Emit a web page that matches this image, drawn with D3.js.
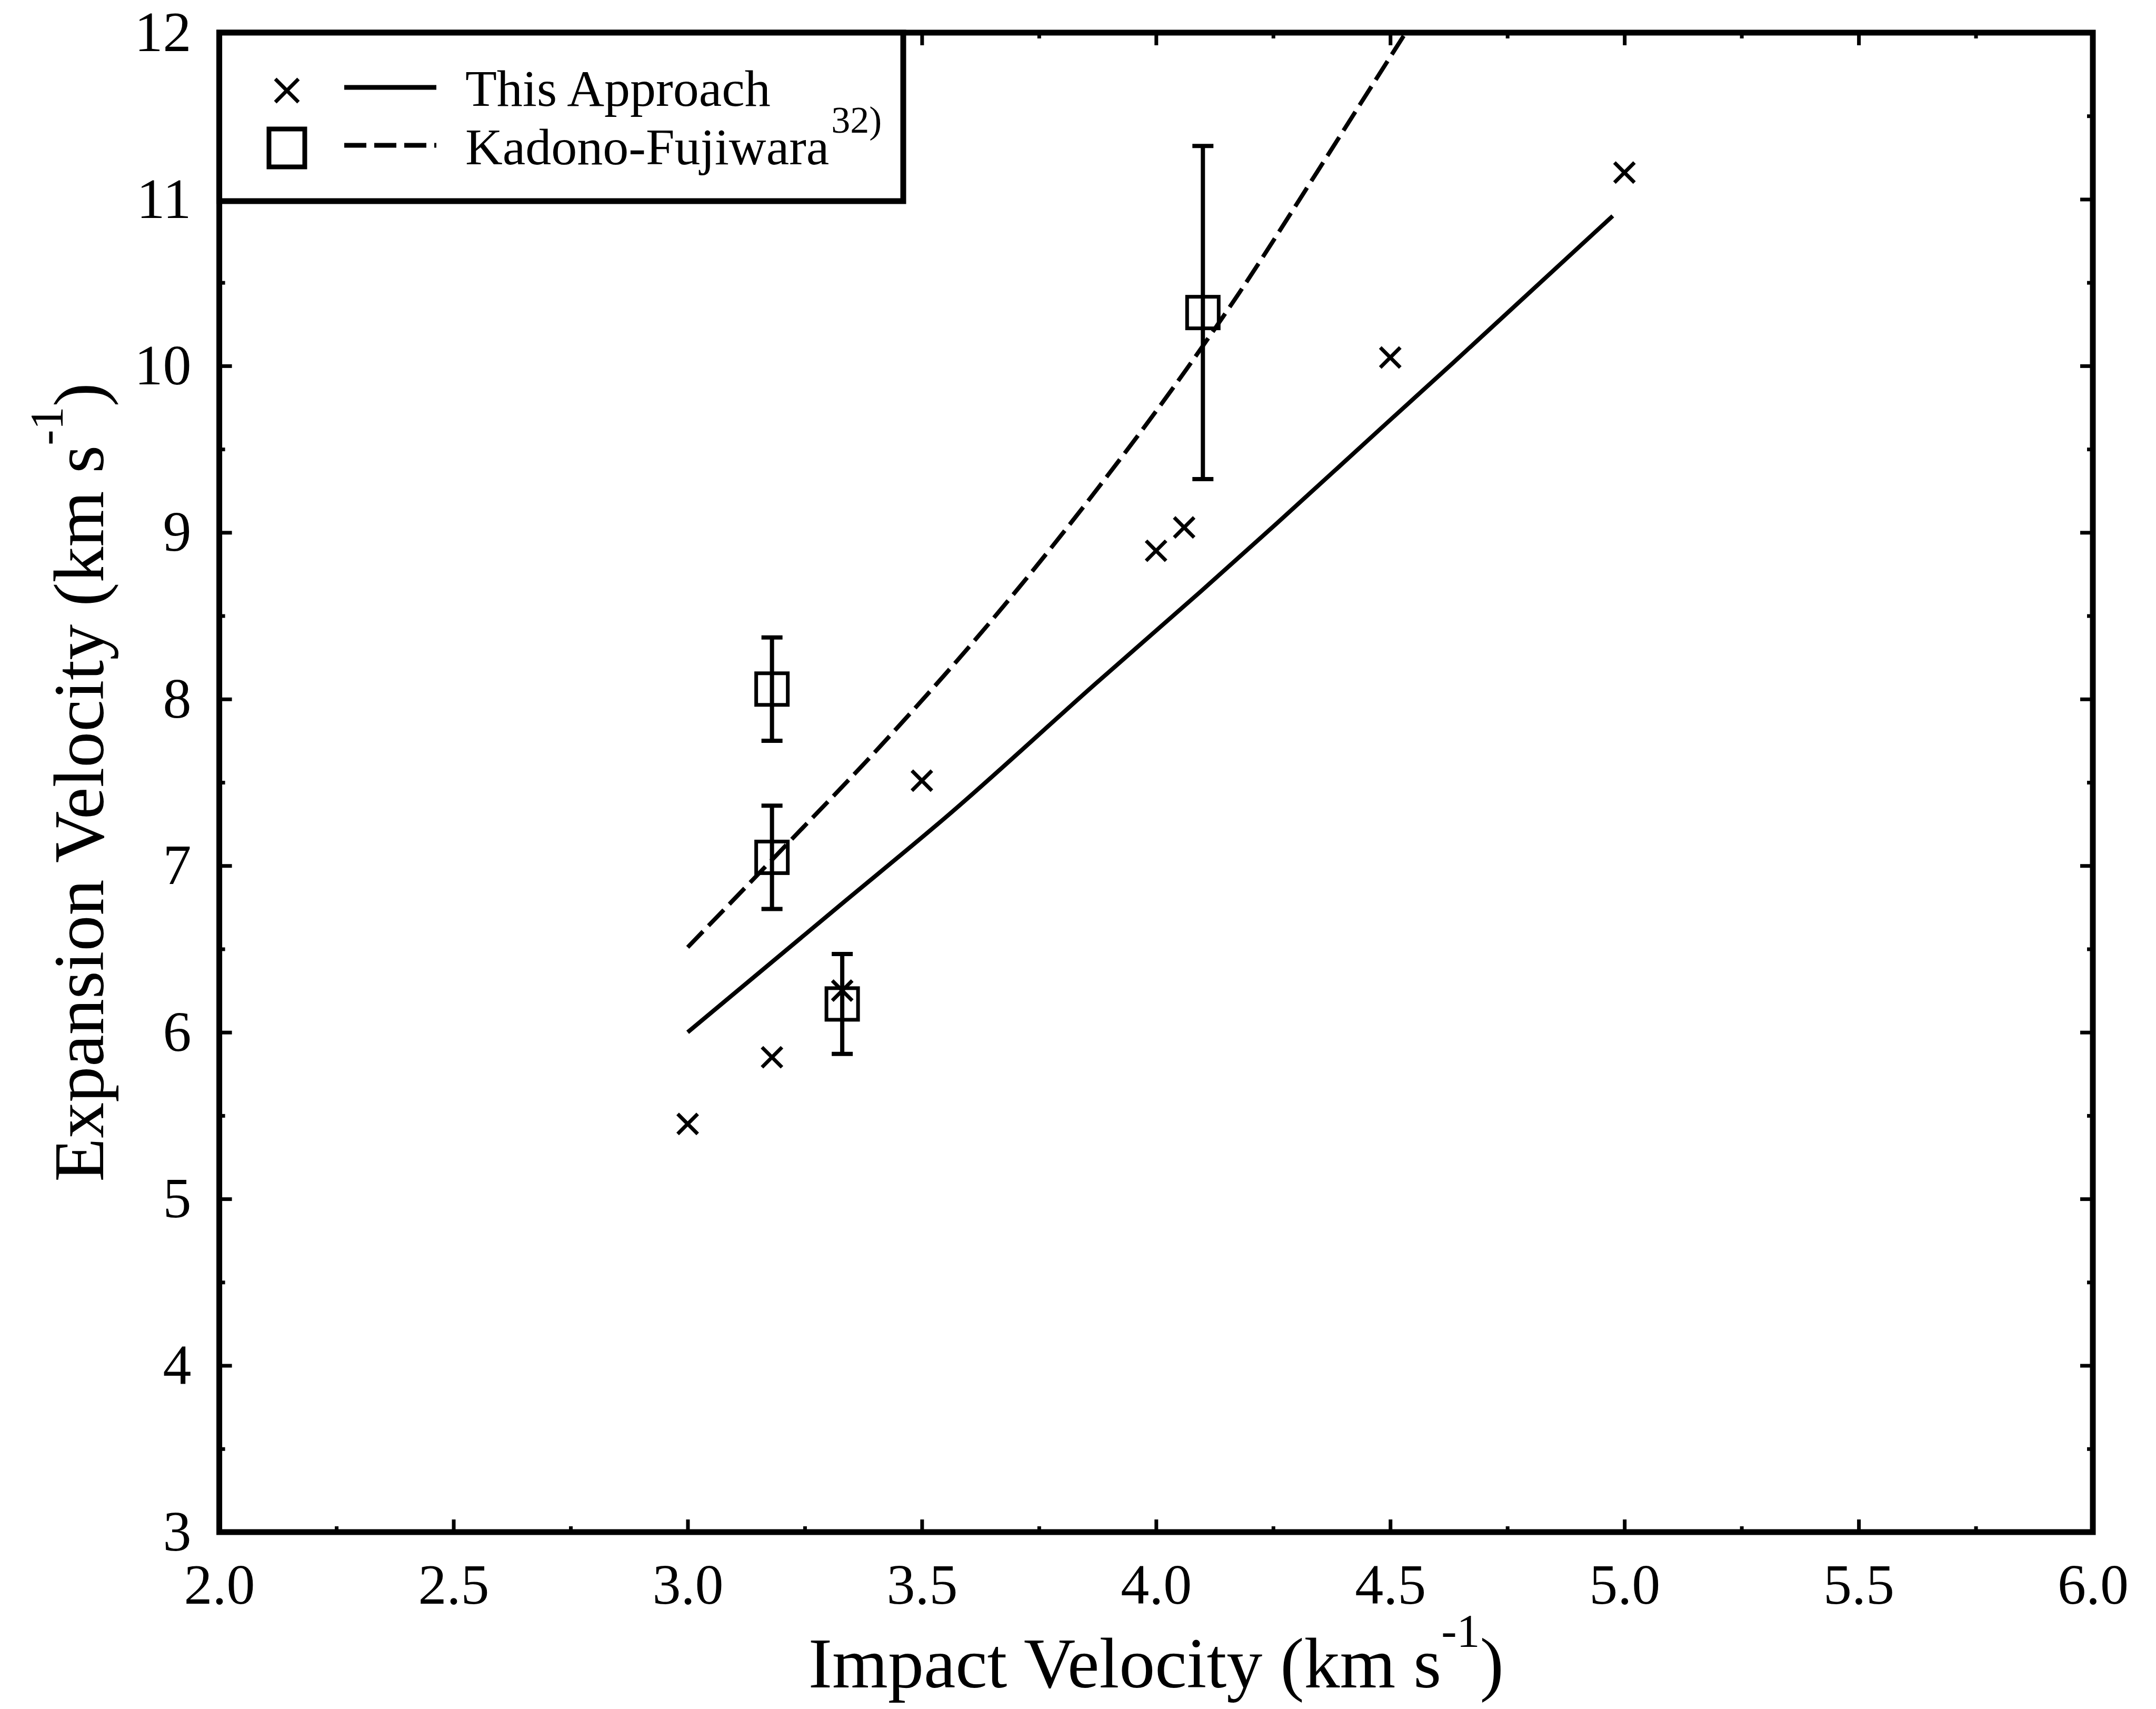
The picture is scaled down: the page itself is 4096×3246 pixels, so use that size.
<!DOCTYPE html>
<html>
<head>
<meta charset="utf-8">
<script src="https://cdn.jsdelivr.net/npm/d3@7"></script>
<style>
  html, body { margin: 0; padding: 0; background: #fff; }
  svg { display: block; }
</style>
</head>
<body>
<svg id="chart" width="4096" height="3246"></svg>
<script>
// ---- data -------------------------------------------------------------
// measured points, "This Approach" (x markers)
const approachX = [3.00, 3.18, 3.33, 3.50, 4.00, 4.06, 4.50, 5.00];
const approachY = [5.45, 5.85, 6.25, 7.51, 8.89, 9.03, 10.05, 11.16];

// Kadono-Fujiwara points (squares) with symmetric error bars
const kfX   = [3.18, 3.18, 3.33, 4.10];
const kfY   = [8.06, 7.05, 6.17, 10.32];
const kfErr = [0.31, 0.31, 0.30, 1.00];

// model curve, this approach (solid)
const approachCurveX = [3.00, 3.32, 3.555, 3.87, 4.095, 4.26, 4.49, 4.635, 4.975];
const approachCurveY = [6.00, 6.75, 7.30, 8.09, 8.645, 9.06, 9.65, 10.02, 10.90];

// model curve, Kadono-Fujiwara (dashed)
const kfCurveX = [3.00, 3.209, 3.409, 3.687, 3.877, 4.065, 4.178, 4.343, 4.456, 4.533];
const kfCurveY = [6.51, 7.12, 7.71, 8.60, 9.27, 9.98, 10.44, 11.16, 11.66, 12.00];

// axes
const xMajor = [2.0, 2.5, 3.0, 3.5, 4.0, 4.5, 5.0, 5.5, 6.0];
const xMinor = [2.25, 2.75, 3.25, 3.75, 4.25, 4.75, 5.25, 5.75];
const yMajor = [3, 4, 5, 6, 7, 8, 9, 10, 11, 12];
const yMinor = [3.5, 4.5, 5.5, 6.5, 7.5, 8.5, 9.5, 10.5, 11.5];

const legendLabels = ["This Approach", "Kadono-Fujiwara"];
const legendNote = "32)";
const xTitle = "Impact Velocity (km s";
const yTitle = "Expansion Velocity (km s";
const unitExp = "-1";

// ---- layout -----------------------------------------------------------
const FONT = "'Liberation Serif', 'Times New Roman', Times, serif";
const plot = { left: 416.6, right: 3976, top: 62, bottom: 2910 };

const svg = d3.select("#chart").style("font-family", FONT);
svg.append("rect").attr("width", 4096).attr("height", 3246).attr("fill", "#fff");

const x = d3.scaleLinear().domain([2, 6]).range([plot.left, plot.right]);
const y = d3.scaleLinear().domain([3, 12]).range([plot.bottom, plot.top]);

const MAJOR = 24, MINOR = 11, TICK_W = 7, FRAME_W = 11, TICK_FONT = 108;

function styleTicks(sel) {
  sel.select(".domain").remove();
  sel.selectAll(".tick line").attr("stroke", "#000").attr("stroke-width", TICK_W);
  sel.selectAll(".tick text")
    .attr("fill", "#000")
    .attr("font-family", FONT)
    .attr("font-size", TICK_FONT);
}

// bottom axis with labels
svg.append("g").attr("transform", `translate(0,${plot.bottom})`)
  .call(d3.axisBottom(x).tickValues(xMajor).tickSize(-MAJOR).tickPadding(59)
        .tickFormat(d3.format(".1f")))
  .call(styleTicks);
svg.append("g").attr("transform", `translate(0,${plot.bottom})`)
  .call(d3.axisBottom(x).tickValues(xMinor).tickSize(-MINOR).tickFormat(""))
  .call(styleTicks);

// top axis (ticks only)
svg.append("g").attr("transform", `translate(0,${plot.top})`)
  .call(d3.axisTop(x).tickValues(xMajor).tickSize(-MAJOR).tickFormat(""))
  .call(styleTicks);
svg.append("g").attr("transform", `translate(0,${plot.top})`)
  .call(d3.axisTop(x).tickValues(xMinor).tickSize(-MINOR).tickFormat(""))
  .call(styleTicks);

// left axis with labels
svg.append("g").attr("transform", `translate(${plot.left},0)`)
  .call(d3.axisLeft(y).tickValues(yMajor).tickSize(-MAJOR).tickPadding(53)
        .tickFormat(d3.format("d")))
  .call(styleTicks);
svg.append("g").attr("transform", `translate(${plot.left},0)`)
  .call(d3.axisLeft(y).tickValues(yMinor).tickSize(-MINOR).tickFormat(""))
  .call(styleTicks);

// right axis (ticks only)
svg.append("g").attr("transform", `translate(${plot.right},0)`)
  .call(d3.axisRight(y).tickValues(yMajor).tickSize(-MAJOR).tickFormat(""))
  .call(styleTicks);
svg.append("g").attr("transform", `translate(${plot.right},0)`)
  .call(d3.axisRight(y).tickValues(yMinor).tickSize(-MINOR).tickFormat(""))
  .call(styleTicks);

// frame
svg.append("rect")
  .attr("x", plot.left).attr("y", plot.top)
  .attr("width", plot.right - plot.left).attr("height", plot.bottom - plot.top)
  .attr("fill", "none").attr("stroke", "#000").attr("stroke-width", FRAME_W);

// ---- axis titles ------------------------------------------------------
const TITLE_SIZE = 136, EXP_SIZE = 88, EXP_RISE = 78;

const xt = svg.append("text")
  .attr("x", (plot.left + plot.right) / 2).attr("y", 3205)
  .attr("text-anchor", "middle").attr("font-size", TITLE_SIZE).attr("fill", "#000");
xt.append("tspan").text(xTitle);
xt.append("tspan").attr("font-size", EXP_SIZE).attr("dy", -EXP_RISE).text(unitExp);
xt.append("tspan").attr("dy", EXP_RISE).text(")");

const yt = svg.append("text")
  .attr("transform", `translate(196,${(plot.top + plot.bottom) / 2}) rotate(-90)`)
  .attr("text-anchor", "middle").attr("font-size", TITLE_SIZE).attr("fill", "#000");
yt.append("tspan").text(yTitle);
yt.append("tspan").attr("font-size", EXP_SIZE).attr("dy", -EXP_RISE).text(unitExp);
yt.append("tspan").attr("dy", EXP_RISE).text(")");

// ---- curves -----------------------------------------------------------
const line = d3.line().x(d => x(d[0])).y(d => y(d[1])).curve(d3.curveMonotoneX);
const DASH = "42,15";

svg.append("path")
  .datum(approachCurveX.map((v, i) => [v, approachCurveY[i]]))
  .attr("d", line).attr("fill", "none")
  .attr("stroke", "#000").attr("stroke-width", 8);

svg.append("path")
  .datum(kfCurveX.map((v, i) => [v, kfCurveY[i]]))
  .attr("d", line).attr("fill", "none")
  .attr("stroke", "#000").attr("stroke-width", 8)
  .attr("stroke-dasharray", DASH);

// ---- error bars and squares ------------------------------------------
const kf = kfX.map((v, i) => ({ x: v, y: kfY[i], e: kfErr[i] }));
const CAP = 20, SQ = 60;

const eb = svg.append("g").attr("stroke", "#000").attr("stroke-width", 8);
eb.selectAll("line.bar").data(kf).join("line").attr("class", "bar")
  .attr("x1", d => x(d.x)).attr("x2", d => x(d.x))
  .attr("y1", d => y(d.y + d.e)).attr("y2", d => y(d.y - d.e));
eb.selectAll("line.capTop").data(kf).join("line").attr("class", "capTop")
  .attr("x1", d => x(d.x) - CAP).attr("x2", d => x(d.x) + CAP)
  .attr("y1", d => y(d.y + d.e)).attr("y2", d => y(d.y + d.e));
eb.selectAll("line.capBot").data(kf).join("line").attr("class", "capBot")
  .attr("x1", d => x(d.x) - CAP).attr("x2", d => x(d.x) + CAP)
  .attr("y1", d => y(d.y - d.e)).attr("y2", d => y(d.y - d.e));

svg.append("g").selectAll("rect").data(kf).join("rect")
  .attr("x", d => x(d.x) - SQ / 2).attr("y", d => y(d.y) - SQ / 2)
  .attr("width", SQ).attr("height", SQ)
  .attr("fill", "none").attr("stroke", "#000").attr("stroke-width", 7);

// ---- x markers --------------------------------------------------------
const crossPath = h => `M${-h},${-h}L${h},${h}M${-h},${h}L${h},${-h}`;
svg.append("g").selectAll("path")
  .data(approachX.map((v, i) => [v, approachY[i]]))
  .join("path")
  .attr("transform", d => `translate(${x(d[0])},${y(d[1])})`)
  .attr("d", crossPath(19))
  .attr("fill", "none").attr("stroke", "#000").attr("stroke-width", 7);

// ---- legend -----------------------------------------------------------
const legend = svg.append("g");
legend.append("rect")
  .attr("x", plot.left).attr("y", plot.top)
  .attr("width", 1716 - plot.left).attr("height", 382 - plot.top)
  .attr("fill", "#fff").attr("stroke", "#000").attr("stroke-width", FRAME_W);

const rows = [
  { label: legendLabels[0], symY: 172, lineY: 166, textY: 201, dash: null },
  { label: legendLabels[1], symY: 281, lineY: 276, textY: 312, dash: DASH }
];

// row 1: x marker and solid line
legend.append("path")
  .attr("transform", `translate(545,${rows[0].symY})`)
  .attr("d", crossPath(22))
  .attr("fill", "none").attr("stroke", "#000").attr("stroke-width", 7);
// row 2: square and dashed line
legend.append("rect")
  .attr("x", 545 - 34).attr("y", rows[1].symY - 36)
  .attr("width", 68).attr("height", 72)
  .attr("fill", "none").attr("stroke", "#000").attr("stroke-width", 9);

legend.selectAll("line.key").data(rows).join("line").attr("class", "key")
  .attr("x1", 654).attr("x2", 829)
  .attr("y1", d => d.lineY).attr("y2", d => d.lineY)
  .attr("stroke", "#000").attr("stroke-width", 9)
  .attr("stroke-dasharray", d => d.dash);

const lt = legend.selectAll("text.lab").data(rows).join("text").attr("class", "lab")
  .attr("x", 884).attr("y", d => d.textY)
  .attr("font-size", 98).attr("fill", "#000");
lt.append("tspan").text(d => d.label);
lt.filter((d, i) => i === 1)
  .append("tspan").attr("font-size", 72).attr("dy", -60).attr("dx", 4).text(legendNote);
</script>
</body>
</html>
